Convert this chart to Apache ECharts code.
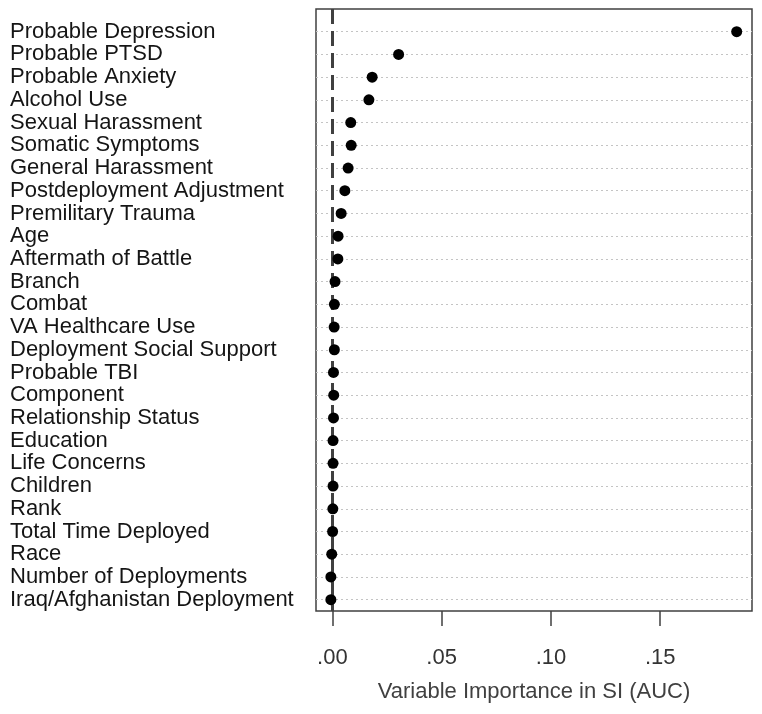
<!DOCTYPE html>
<html>
<head>
<meta charset="utf-8">
<script src="https://cdn.jsdelivr.net/npm/echarts@6/dist/echarts.min.js"></script>
<style>
html,body{margin:0;padding:0;background:#fff;}
#chart{width:762px;height:714px;}
</style>
</head>
<body>
<div id="chart"></div>
<script>
const categories = [
  "Probable Depression","Probable PTSD","Probable Anxiety","Alcohol Use",
  "Sexual Harassment","Somatic Symptoms","General Harassment","Postdeployment Adjustment",
  "Premilitary Trauma","Age","Aftermath of Battle","Branch","Combat","VA Healthcare Use",
  "Deployment Social Support","Probable TBI","Component","Relationship Status","Education",
  "Life Concerns","Children","Rank","Total Time Deployed","Race","Number of Deployments",
  "Iraq/Afghanistan Deployment"
];
const importance = [
  0.185, 0.0303, 0.0182, 0.0167,
  0.0084, 0.0086, 0.0072, 0.0057,
  0.0040, 0.0026, 0.0025, 0.0012, 0.0009, 0.0008,
  0.0009, 0.0005, 0.0006, 0.0005, 0.0003,
  0.0003, 0.0003, 0.0002, 0.0001, -0.0003, -0.0007,
  -0.0007
];
const xTicks = [0, 0.05, 0.10, 0.15];
const xTickLabels = [".00", ".05", ".10", ".15"];
const referenceLine = 0.0012;
const axisTitle = "Variable Importance in SI (AUC)";

const chart = echarts.init(document.getElementById('chart'), null, {renderer:'canvas'});
const FONT = 'Liberation Sans, Arial, sans-serif';
const option = {
  animation: false,
  backgroundColor: '#ffffff',
  grid: {
    left: 316, right: 10, top: 9, bottom: 103,
    show: true, borderColor: '#404040', borderWidth: 1.5, backgroundColor: 'transparent'
  },
  xAxis: {
    type: 'value', position: 'bottom',
    min: -0.0075, max: 0.192,
    axisLine: {show: false, onZero: false},
    splitLine: {show: false},
    axisTick: {show: true, inside: false, length: 15, customValues: xTicks,
      lineStyle: {color: '#404040', width: 1.5}},
    axisLabel: {
      customValues: xTicks,
      margin: 36, fontSize: 22, fontFamily: FONT, color: '#333333',
      formatter: function (v) {
        for (let i = 0; i < xTicks.length; i++) if (Math.abs(xTicks[i] - v) < 1e-9) return xTickLabels[i];
        return '';
      }
    },
    name: axisTitle, nameLocation: 'middle', nameGap: 70,
    nameTextStyle: {fontSize: 22, fontFamily: FONT, color: '#404040'}
  },
  yAxis: {
    type: 'value', inverse: true,
    min: -1, max: 25.5, interval: 1,
    axisLine: {show: false, onZero: false},
    axisTick: {show: false},
    splitLine: {show: false},
    axisLabel: {
      align: 'left', margin: 306, fontSize: 22, fontFamily: FONT, color: '#151515',
      padding: [0, 0, 6, 0],
      formatter: function (v) {
        const i = Math.round(v);
        if (Math.abs(v - i) > 1e-6 || i < 0 || i >= categories.length) return '';
        return categories[i];
      }
    }
  },
  series: [{
    type: 'scatter',
    data: importance.map((v, i) => [v, i]),
    symbol: 'circle', symbolSize: 11,
    itemStyle: {color: '#000000', opacity: 1},
    z: 5,
    markLine: {
      silent: true, symbol: 'none',
      label: {show: false},
      lineStyle: {color: '#c4c4c4', width: 1, type: [2, 3]},
      data: categories.map((c, i) => ({yAxis: i}))
    }
  }, {
    type: 'scatter',
    data: [],
    z: 4,
    markLine: {
      silent: true, symbol: 'none',
      label: {show: false},
      lineStyle: {color: '#404040', width: 3, type: [15, 7]},
      data: [{xAxis: referenceLine}]
    }
  }]
};
chart.setOption(option);
</script>
</body>
</html>
